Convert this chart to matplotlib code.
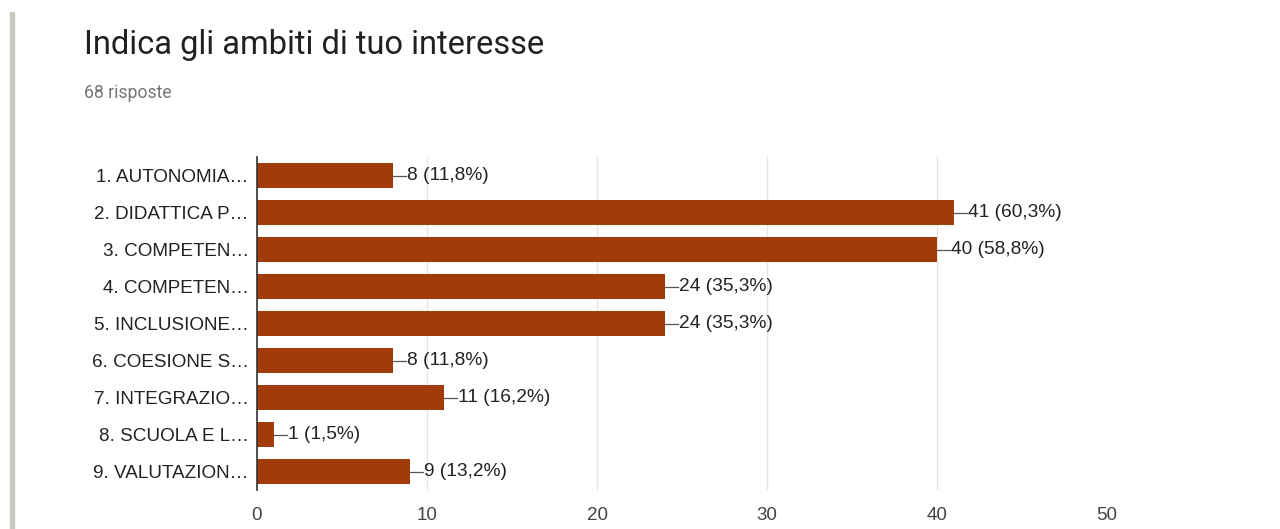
import matplotlib.pyplot as plt
import matplotlib.patches as patches

categories = ["1. AUTONOMIA…", "2. DIDATTICA P…", "3. COMPETEN…", "4. COMPETEN…",
              "5. INCLUSIONE…", "6. COESIONE S…", "7. INTEGRAZIO…", "8. SCUOLA E L…",
              "9. VALUTAZION…"]
counts = [8, 41, 40, 24, 24, 8, 11, 1, 9]
percents = ["11,8%", "60,3%", "58,8%", "35,3%", "35,3%", "11,8%", "16,2%", "1,5%", "13,2%"]
xticks = [0, 10, 20, 30, 40, 50]

bar_color = "#a23a09"

fig = plt.figure(figsize=(12.8, 5.29), dpi=100)
fig.patch.set_facecolor("white")

# grey strip on the left edge
fig.patches.append(patches.Rectangle((10/1280, 0), 4/1280, 1 - 12/529,
                                     transform=fig.transFigure, color="#cacbc0", zorder=0))

fig.text(84/1280, 1 - 45/529, "Indica gli ambiti di tuo interesse", fontsize=23.5,
         family="Roboto", color="#212121", va="center")
fig.text(84/1280, 1 - 93/529, "68 risposte", fontsize=12.7,
         family="Roboto", color="#757575", va="center")

ax = fig.add_axes([257/1280, 1 - 490/529, 850/1280, 333/529])
y = list(range(len(categories)))
ax.barh(y, counts, height=0.7, color=bar_color, zorder=2)
ax.set_ylim(len(categories) - 0.5, -0.5)
ax.set_xlim(0, 50)

for i, (c, p) in enumerate(zip(counts, percents)):
    ax.plot([c, c + 0.75], [i, i], color="#555555", lw=0.9, zorder=3)
    ax.text(c + 0.8, i, f"{c} ({p})", va="center", ha="left", fontsize=13.8,
            family="Liberation Sans", color="#222222")

ax.set_yticks(y)
ax.set_yticklabels(categories, fontsize=13.6, family="Liberation Sans", color="#222222")
ax.set_xticks(xticks)
ax.set_xticklabels([str(t) for t in xticks], fontsize=13.5, family="Liberation Sans",
                   color="#444444")
ax.tick_params(axis="both", length=0)
ax.tick_params(axis="y", pad=6)
ax.tick_params(axis="x", pad=12)
ax.grid(axis="x", color="#e6e6e6", lw=1, zorder=0)
for s in ["top", "right", "bottom"]:
    ax.spines[s].set_visible(False)
ax.spines["left"].set_color("#333333")
ax.spines["left"].set_linewidth(1.2)
ax.spines["left"].set_zorder(4)

fig.savefig("out.png", dpi=100)
